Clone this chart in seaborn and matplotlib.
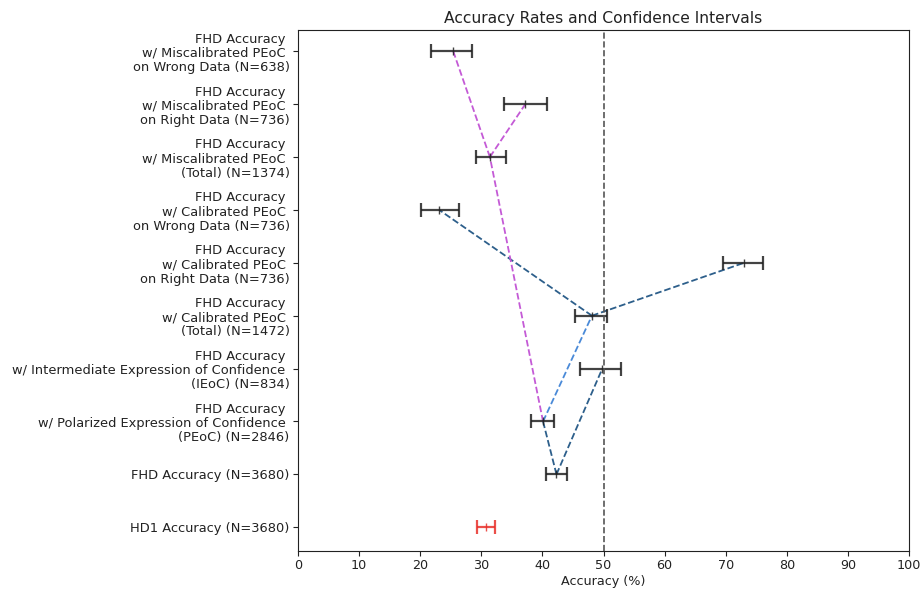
import pandas as pd
import matplotlib
matplotlib.use("Agg")
import matplotlib.pyplot as plt
import seaborn as sns

# rows from bottom to top
labels = [
    "HD1 Accuracy (N=3680)",
    "FHD Accuracy (N=3680)",
    "FHD Accuracy \nw/ Polarized Expression of Confidence \n(PEoC) (N=2846)",
    "FHD Accuracy \nw/ Intermediate Expression of Confidence \n(IEoC) (N=834)",
    "FHD Accuracy \nw/ Calibrated PEoC \n(Total) (N=1472)",
    "FHD Accuracy \nw/ Calibrated PEoC \non Right Data (N=736)",
    "FHD Accuracy \nw/ Calibrated PEoC \non Wrong Data (N=736)",
    "FHD Accuracy \nw/ Miscalibrated PEoC \n(Total) (N=1374)",
    "FHD Accuracy \nw/ Miscalibrated PEoC \non Right Data (N=736)",
    "FHD Accuracy \nw/ Miscalibrated PEoC \non Wrong Data (N=638)",
]
means = [30.8, 42.3, 40.1, 49.8, 48.1, 73.0, 23.1, 31.4, 37.2, 25.4]
ci_low = [29.3, 40.6, 38.2, 46.2, 45.4, 69.6, 20.1, 29.1, 33.7, 21.8]
ci_high = [32.2, 44.0, 41.9, 52.9, 50.6, 76.1, 26.3, 34.0, 40.8, 28.4]
bar_colors = ["#e8302a"] + ["#222222"] * 9

# connections between rows (from index, to index, colour group)
edge_from = [1, 1, 2, 2, 4, 4, 7, 7]
edge_to = [2, 3, 4, 7, 5, 6, 8, 9]
edge_group = ["dark", "dark", "light", "magenta", "dark", "dark", "magenta", "magenta"]
group_colors = {"dark": "#2d5f8b", "light": "#4a8ad8", "magenta": "#c45ad6"}

sns.set_style("ticks", {"text.color": "#222222", "axes.labelcolor": "#222222",
                        "xtick.color": "#222222", "ytick.color": "#222222",
                        "axes.edgecolor": "#222222"})
plt.rcParams["font.family"] = ["DejaVu Sans"]
plt.rcParams["xtick.major.size"] = 3.5
plt.rcParams["ytick.major.size"] = 3.5
plt.rcParams["xtick.major.pad"] = 2.5
plt.rcParams["ytick.major.pad"] = 2.5

fig = plt.figure(figsize=(9.21, 5.9), dpi=100)
ax = fig.add_axes([0.3236, 0.066, 0.6634, 0.883])

rows = []
for k, (a, b, g) in enumerate(zip(edge_from, edge_to, edge_group)):
    rows.append({"seg": k, "grp": g, "acc": means[a], "pos": a})
    rows.append({"seg": k, "grp": g, "acc": means[b], "pos": b})
edges = pd.DataFrame(rows)

sns.lineplot(data=edges, x="acc", y="pos", units="seg", hue="grp",
             palette=group_colors, estimator=None, sort=False,
             linestyle="--", linewidth=1.3, legend=False, ax=ax)

for i in range(len(labels)):
    ax.errorbar(means[i], i,
                xerr=[[means[i] - ci_low[i]], [ci_high[i] - means[i]]],
                fmt="|", color=bar_colors[i], ecolor=bar_colors[i],
                capsize=5, elinewidth=1.6, capthick=1.6, markersize=6,
                alpha=0.85)

ax.axvline(50, color="#555555", linestyle="--", linewidth=1.2)

ax.set_xlim(0, 100)
ax.set_xticks(range(0, 101, 10))
ax.set_ylim(-0.45, 9.4)
ax.set_yticks(range(len(labels)))
ax.set_yticklabels(labels, fontsize=9.4, linespacing=1.12)
ax.tick_params(axis="x", labelsize=9.2)
ax.set_xlabel("Accuracy (%)", fontsize=9.2, labelpad=2)
ax.set_ylabel("")
ax.set_title("Accuracy Rates and Confidence Intervals", fontsize=11.2, pad=5)

fig.savefig("out.png", dpi=100)
